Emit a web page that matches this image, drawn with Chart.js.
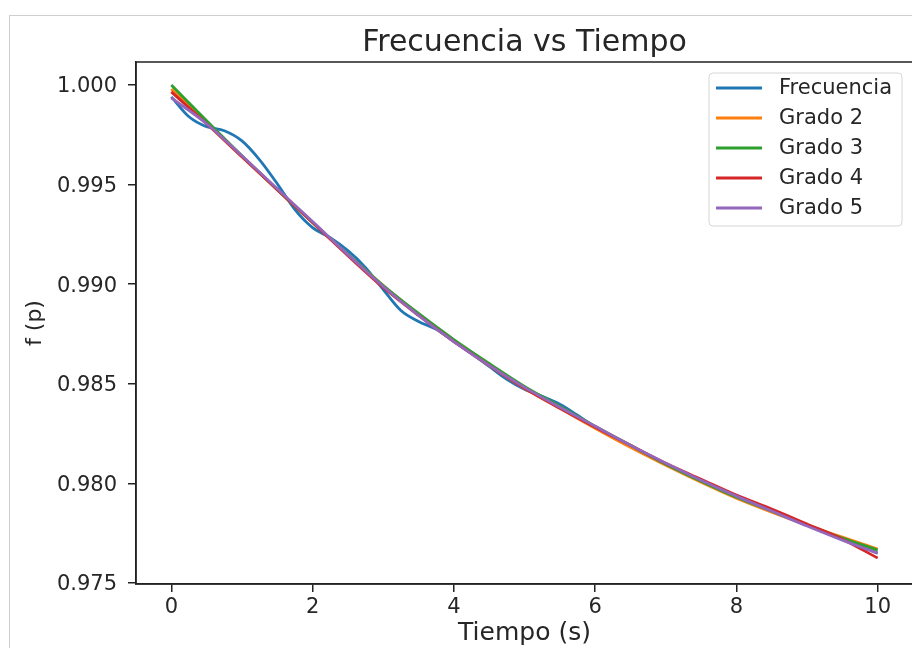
<!DOCTYPE html>
<html>
<head>
<meta charset="utf-8">
<script src="https://cdn.jsdelivr.net/npm/chart.js@4.4.1/dist/chart.umd.min.js"></script>
<style>
    html, body { margin: 0; padding: 0; background: #fff; overflow: hidden; }
    #frame {
        position: absolute; left: 9px; top: 15px; width: 920px; height: 640px;
        border-top: 1px solid #cfcfcf; border-left: 1px solid #cfcfcf;
    }
    #wrap { position: absolute; left: 0; top: 0; width: 930px; height: 648px; }
</style>
</head>
<body>
<div id="frame"></div>
<div id="wrap"><canvas id="freqChart"></canvas></div>
<script>
// Time axis for the measured signal and for the fitted polynomials
const timeMeasured = [0, 0.25, 0.5, 0.75, 1, 1.25, 1.5, 1.75, 2, 2.25, 2.5, 2.75, 3, 3.25, 3.5, 3.75,
    4, 4.25, 4.5, 4.75, 5, 5.25, 5.5, 5.75, 6, 6.5, 7, 7.5, 8, 8.5, 9, 9.5, 10];
const timeFit = [0, 0.5, 1, 1.5, 2, 2.5, 3, 3.5, 4, 4.5, 5, 5.5, 6, 6.5, 7, 7.5, 8, 8.5, 9, 9.5, 10];

// Measured frequency (p.u.)
const frecuencia = [0.99940, 0.99840, 0.99790, 0.99770, 0.99719, 0.99624, 0.99504, 0.99374, 0.99284,
    0.99233, 0.99168, 0.99083, 0.98973, 0.98868, 0.98813, 0.98773, 0.98712, 0.98652, 0.98587,
    0.98522, 0.98472, 0.98437, 0.98397, 0.98342, 0.98282, 0.98186, 0.98096, 0.98016, 0.97936,
    0.97861, 0.97791, 0.97720, 0.97650];

// Polynomial fits
const grado2 = [0.99980, 0.99810, 0.99639, 0.99474, 0.99309, 0.99148, 0.98993, 0.98848, 0.98717, 0.98592,
    0.98477, 0.98377, 0.98277, 0.98181, 0.98091, 0.98006, 0.97926, 0.97856, 0.97791, 0.97730, 0.97670];
const grado3 = [1.00000, 0.99820, 0.99644, 0.99474, 0.99309, 0.99148, 0.98993, 0.98853, 0.98722, 0.98602,
    0.98487, 0.98387, 0.98287, 0.98191, 0.98096, 0.98011, 0.97931, 0.97861, 0.97791, 0.97725, 0.97665];
const grado4 = [0.99965, 0.99805, 0.99639, 0.99474, 0.99309, 0.99143, 0.98983, 0.98843, 0.98712, 0.98592,
    0.98477, 0.98377, 0.98282, 0.98191, 0.98101, 0.98021, 0.97941, 0.97871, 0.97796, 0.97720, 0.97625];
const grado5 = [0.99935, 0.99805, 0.99644, 0.99479, 0.99314, 0.99148, 0.98988, 0.98843, 0.98712, 0.98592,
    0.98482, 0.98382, 0.98287, 0.98191, 0.98101, 0.98016, 0.97936, 0.97861, 0.97786, 0.97715, 0.97650];

const xTicks = [0, 2, 4, 6, 8, 10];
const yTicks = [0.975, 0.980, 0.985, 0.990, 0.995, 1.000];

const FONT = 'DejaVu Sans';
const TEXT = '#262626';

const toPoints = (xs, ys) => ys.map((y, i) => ({ x: xs[i], y: y }));

function series(label, xs, ys, color, order) {
    return {
        label: label,
        data: toPoints(xs, ys),
        borderColor: color,
        backgroundColor: color,
        borderWidth: 2.8,
        pointRadius: 0,
        fill: false,
        cubicInterpolationMode: 'monotone',
        order: order
    };
}

// Axes box: matplotlib style spines on all four sides
const spinesPlugin = {
    id: 'spines',
    afterDatasetsDraw(chart) {
        const { ctx, chartArea: a } = chart;
        ctx.save();
        ctx.strokeStyle = '#222';
        ctx.lineWidth = 1.5;
        ctx.strokeRect(a.left, a.top, a.right - a.left, a.bottom - a.top);
        ctx.restore();
    }
};

// Legend in the upper right corner with a rounded frame
const boxLegendPlugin = {
    id: 'boxLegend',
    afterDraw(chart) {
        const { ctx, chartArea: a } = chart;
        const sets = chart.data.datasets;
        ctx.save();
        ctx.font = '21px "' + FONT + '"';
        const textW = Math.max(...sets.map(d => ctx.measureText(d.label).width));
        const rowH = 30;
        const right = a.right - 11;
        const top = a.top + 11;
        const w = 7 + 46 + 17 + textW + 10;
        const h = sets.length * rowH + 3;
        const left = right - w;

        ctx.beginPath();
        ctx.roundRect(left, top, w, h, 4);
        ctx.fillStyle = 'rgba(255,255,255,0.8)';
        ctx.fill();
        ctx.strokeStyle = '#d6d6d6';
        ctx.lineWidth = 1;
        ctx.stroke();

        sets.forEach((d, i) => {
            const y = top + 15 + i * rowH;
            ctx.beginPath();
            ctx.moveTo(left + 7, y);
            ctx.lineTo(left + 53, y);
            ctx.strokeStyle = d.borderColor;
            ctx.lineWidth = 2.8;
            ctx.stroke();
            ctx.fillStyle = TEXT;
            ctx.textBaseline = 'middle';
            ctx.textAlign = 'left';
            ctx.fillText(d.label, left + 70, y + 1);
        });
        ctx.restore();
    }
};

const ctx = document.getElementById('freqChart').getContext('2d');
new Chart(ctx, {
    type: 'line',
    data: {
        datasets: [
            series('Frecuencia', timeMeasured, frecuencia, '#1f77b4', 5),
            series('Grado 2', timeFit, grado2, '#ff7f0e', 4),
            series('Grado 3', timeFit, grado3, '#2ca02c', 3),
            series('Grado 4', timeFit, grado4, '#d62728', 2),
            series('Grado 5', timeFit, grado5, '#9467bd', 1)
        ]
    },
    options: {
        responsive: true,
        maintainAspectRatio: false,
        devicePixelRatio: 1,
        animation: false,
        layout: { padding: { left: 0, right: 17, top: 0, bottom: 0 } },
        plugins: {
            legend: { display: false },
            tooltip: { enabled: false },
            title: {
                display: true,
                text: 'Frecuencia vs Tiempo',
                fullSize: false,
                color: TEXT,
                font: { family: FONT, size: 30, weight: 'normal' },
                padding: { top: 25, bottom: 1 }
            }
        },
        scales: {
            x: {
                type: 'linear',
                min: -0.5,
                max: 10.5,
                afterBuildTicks: axis => { axis.ticks = xTicks.map(v => ({ value: v })); },
                afterFit: scale => { scale.height = 64; },
                grid: { drawOnChartArea: false, drawTicks: true, tickLength: 8, color: '#222', lineWidth: 1.5 },
                border: { display: true, color: '#222', width: 1.5 },
                ticks: {
                    color: TEXT, padding: 3, maxRotation: 0, autoSkip: false,
                    font: { family: FONT, size: 21 },
                    callback: v => String(v)
                },
                title: {
                    display: true, text: 'Tiempo (s)', color: TEXT,
                    font: { family: FONT, size: 25 },
                    padding: { top: 0, bottom: 0 }
                }
            },
            y: {
                type: 'linear',
                min: 0.97495,
                max: 1.00115,
                afterBuildTicks: axis => { axis.ticks = yTicks.map(v => ({ value: v })); },
                afterFit: scale => { scale.width = 136; },
                grid: { drawOnChartArea: false, drawTicks: true, tickLength: 8, color: '#222', lineWidth: 1.5 },
                border: { display: true, color: '#222', width: 1.5 },
                ticks: {
                    color: TEXT, padding: 11, autoSkip: false, labelOffset: 2,
                    font: { family: FONT, size: 21 },
                    callback: v => v.toFixed(3)
                },
                title: {
                    display: true, text: 'f (p)', color: TEXT,
                    font: { family: FONT, size: 22 },
                    padding: { top: 22, bottom: 0 }
                }
            }
        }
    },
    plugins: [spinesPlugin, boxLegendPlugin]
});
</script>
</body>
</html>
